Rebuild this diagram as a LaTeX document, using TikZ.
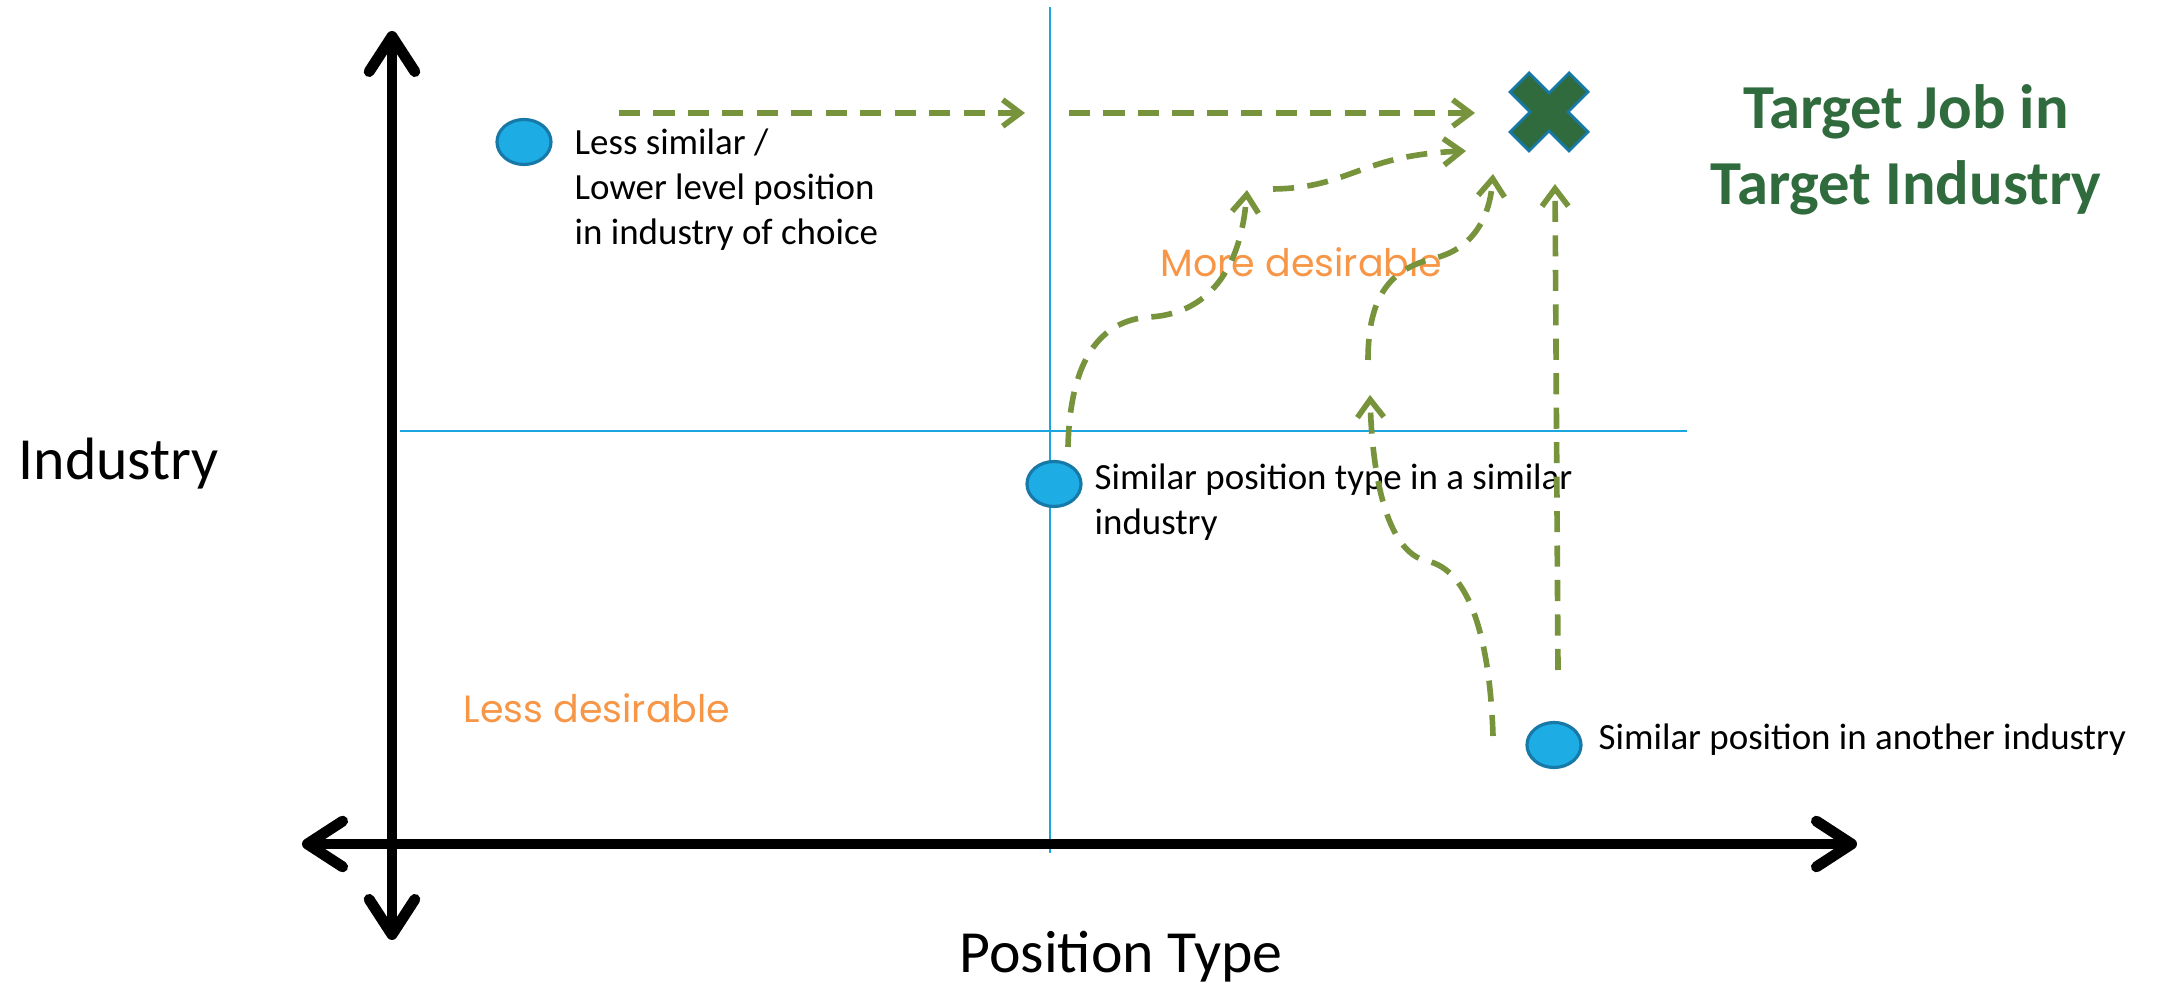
\documentclass[tikz,border=0pt]{standalone}
\usepackage{fontspec}
\setmainfont{Carlito}
\newfontfamily\geofont{Poppins}
\usetikzlibrary{arrows.meta,shapes.geometric}
\definecolor{routegreen}{HTML}{77933C}
\definecolor{titlegreen}{HTML}{2F6B3D}
\definecolor{hintorange}{HTML}{F79646}
\definecolor{spotblue}{HTML}{1DACE3}
\definecolor{spotrim}{HTML}{1779A8}
\definecolor{guideblue}{HTML}{1AA7E0}

\begin{document}
\begin{tikzpicture}
[x=0.01cm,y=-0.01cm,
spot/.style={ellipse,draw=spotrim,fill=spotblue,line width=0.9pt,minimum width=0.54cm,minimum height=0.45cm,inner sep=0pt},
note/.style={anchor=north west,inner sep=0pt,align=left,font=\fontsize{10.5}{12.8}\selectfont},
hint/.style={anchor=base west,inner sep=0pt,text=hintorange,font=\geofont\fontsize{10.8}{12}\selectfont},
guide/.style={draw=guideblue,line width=0.45pt},
bigaxis/.style={line width=3.1pt,{Straight Barb[length=10pt,width=13pt,round]}-{Straight Barb[length=10pt,width=13pt,round]}},
route/.style={draw=routegreen,line width=1.6pt,dash pattern=on 6pt off 3.8pt,-{Straight Barb[length=5pt,width=7.5pt]}},
xmark/.style={fill=titlegreen,draw=spotrim,line width=0.8pt,line join=miter}]
\useasboundingbox (0,0) rectangle (2157,983);

% quadrant lines
\coordinate (vtop) at (1050,7);
\coordinate (vbot) at (1050,853);
\coordinate (hleft) at (400,431);
\coordinate (hright) at (1687,431);
\draw[guide] (vtop) -- (vbot);
\draw[guide] (hleft) -- (hright);

% axes
\coordinate (ytop) at (392,31);
\coordinate (ybot) at (392,940);
\coordinate (xleft) at (302,844);
\coordinate (xright) at (1857,844);
\draw[bigaxis] (ybot) -- (ytop);
\draw[bigaxis] (xleft) -- (xright);
\node[anchor=base west,inner sep=0pt,font=\fontsize{17}{20}\selectfont] (ylabel) at (18,480) {Industry};
\node[anchor=base,inner sep=0pt,font=\fontsize{17}{20}\selectfont] (xlabel) at (1121,973) {Position Type};

% starting points
\node[spot] (lowspot) at (524,142) {};
\node[spot] (simspot) at (1054,484) {};
\node[spot] (otherspot) at (1554,745) {};
\node[note] (lowtext) at (574,128) {Less similar /\\Lower level position\\in industry of choice};
\node[note] (simtext) at (1094,463) {Similar position type in a similar\\industry};
\node[note] (othertext) at (1598,723) {Similar position in another industry};
\node[hint] (more) at (1160,277) {More desirable};
\node[hint] (less) at (463,723) {Less desirable};

% target
\coordinate (target) at (1549,112);
\draw[xmark] (target) ++(0,-19) -- ++(20,-20) -- ++(19,19) -- ++(-20,20) -- ++(20,20) -- ++(-19,19)
  -- ++(-20,-20) -- ++(-20,20) -- ++(-19,-19) -- ++(20,-20) -- ++(-20,-20) -- ++(19,-19) -- cycle;
\node[anchor=north,inner sep=0pt,align=center,text=titlegreen,font=\bfseries\fontsize{17.8}{21.6}\selectfont] (goal) at (1906,84) {Target Job in\\Target Industry};

% routes
\coordinate (f1) at (619,113);
\coordinate (f2) at (1025,113);
\coordinate (g1) at (1069,113);
\coordinate (g2) at (1475,113);
\coordinate (a1) at (1068,447);
\coordinate (a2) at (1150,317);
\coordinate (a3) at (1247,190);
\coordinate (b1) at (1273,189);
\coordinate (b2) at (1466,151);
\coordinate (c1) at (1493,736);
\coordinate (c2) at (1427,561);
\coordinate (c3) at (1370,395);
\coordinate (d1) at (1368,360);
\coordinate (d2) at (1435,258);
\coordinate (d3) at (1493,174);
\coordinate (e1) at (1558,670);
\coordinate (e2) at (1555,184);
\draw[route] (f1) -- (f2);
\draw[route] (g1) -- (g2);
\draw[route] (a1) .. controls (1070,360) and (1100,320) .. (a2) .. controls (1200,314) and (1240,280) .. (a3);
\draw[route] (b1) .. controls (1350,188) and (1360,155) .. (b2);
\draw[route] (c1) .. controls (1490,640) and (1470,570) .. (c2) .. controls (1385,552) and (1372,470) .. (c3);
\draw[route] (d1) .. controls (1368,290) and (1395,268) .. (d2) .. controls (1475,248) and (1490,215) .. (d3);
\draw[route] (e1) -- (e2);
\end{tikzpicture}
\end{document}
